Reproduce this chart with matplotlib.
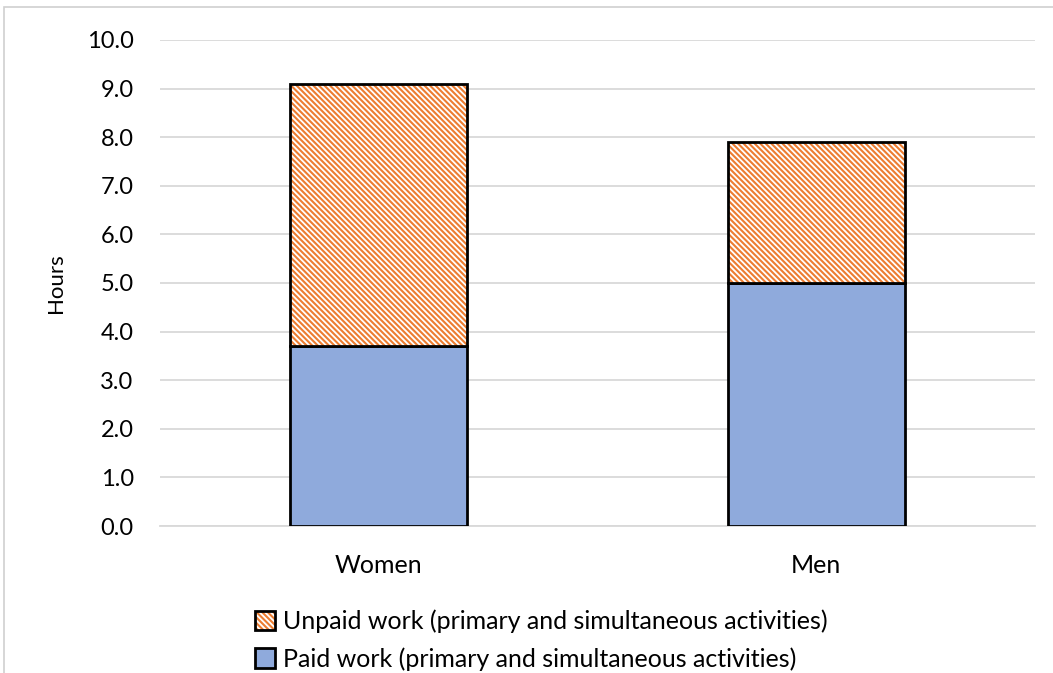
import matplotlib
matplotlib.use("Agg")
import matplotlib.pyplot as plt
from matplotlib.patches import Rectangle
from matplotlib.legend_handler import HandlerTuple

# data
groups = ["Women", "Men"]
paid = [3.7, 5.0]
unpaid = [5.4, 2.9]
y_ticks = [0, 1, 2, 3, 4, 5, 6, 7, 8, 9, 10]

paid_label = "Paid work (primary and simultaneous activities)"
unpaid_label = "Unpaid work (primary and simultaneous activities)"

paid_color = "#8FAADC"
unpaid_color = "#ED7D31"

plt.rcParams["font.family"] = ["Lato", "DejaVu Sans"]
plt.rcParams["hatch.linewidth"] = 1.5

fig = plt.figure(figsize=(10.53, 6.73), dpi=100)
ax = fig.add_axes([0.152, 0.2184, 0.831, 0.7222])

x = list(range(len(groups)))
width = 0.405

paid_bars = ax.bar(x, paid, width, color=paid_color, edgecolor="black",
                   linewidth=2, zorder=3)
# hatched fill first, then a black outline on top
hatch_bars = ax.bar(x, unpaid, width, bottom=paid, color="white",
                    edgecolor=unpaid_color, hatch="\\" * 6, linewidth=0,
                    zorder=3)
outline_bars = ax.bar(x, unpaid, width, bottom=paid, fill=False,
                      edgecolor="black", linewidth=2, zorder=4)

ax.set_xlim(-0.5, 1.5)
ax.set_ylim(0, 10)
ax.set_yticks(y_ticks)
ax.set_yticklabels([f"{v:.1f}" for v in y_ticks])
ax.set_xticks(x)
ax.set_xticklabels(groups)
ax.tick_params(axis="both", length=0)
ax.tick_params(axis="x", pad=20, labelsize=18)
ax.tick_params(axis="y", pad=19, labelsize=17)
ax.grid(axis="y", color="#D9D9D9", linewidth=1.3, zorder=0)
ax.set_axisbelow(True)
for side in ["top", "right", "left"]:
    ax.spines[side].set_visible(False)
ax.spines["bottom"].set_color("#D9D9D9")
ax.spines["bottom"].set_linewidth(1.3)
ax.set_ylabel("Hours", fontsize=16, labelpad=15)

fig.legend([(hatch_bars[0], outline_bars[0]), paid_bars[0]],
           [unpaid_label, paid_label],
           handler_map={tuple: HandlerTuple(ndivide=1, pad=0)},
           loc="lower center", bbox_to_anchor=(0.514, -0.03), ncol=1,
           frameon=False, fontsize=18, handlelength=0.8, handleheight=0.8,
           handletextpad=0.3, labelspacing=0.55)

# outer chart frame
fig.patches.append(Rectangle((4 / 1053, -0.1), 1.2, (1 - 7 / 673) + 0.1,
                             transform=fig.transFigure, fill=False,
                             edgecolor="#D0D0D0", linewidth=1.2))

fig.savefig("out.png", dpi=100)
